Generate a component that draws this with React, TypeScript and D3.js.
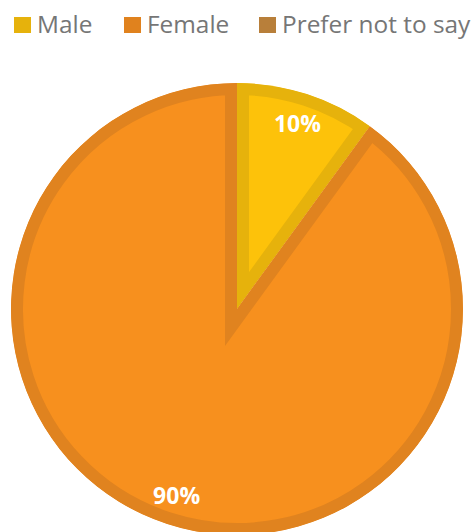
import React from "react";
import * as d3 from "d3";

const categories = ["Male", "Female", "Prefer not to say"];
const values = [10, 90, 0];
const labels = ["10%", "90%", ""];
const fills = ["#FDC20A", "#F7901E", "#B87F3A"];
const strokes = ["#E6B20C", "#E0831F", "#A87234"];
const legendFills = ["#E6B20C", "#E0821E", "#B87F3A"];

const W = 472, H = 532;
const cx = 237, cy = 309, R = 226;

export default function App() {
  const pie = d3.pie<number>().sort(null).value((d) => d);
  const arcs = pie(values);
  const arcGen = d3.arc<d3.PieArcDatum<number>>().innerRadius(0).outerRadius(R);
  const labelArc = d3.arc<d3.PieArcDatum<number>>().innerRadius(R * 0.865).outerRadius(R * 0.865);

  const legendX = [14, 124, 259];
  const font = "'Open Sans', sans-serif";

  return (
    <svg width={W} height={H} style={{ position: "absolute", left: 0, top: 0 }}>
      <defs>
        {arcs.map((a, i) => (
          <clipPath id={`clip${i}`} key={i}>
            <path d={arcGen(a) || ""} />
          </clipPath>
        ))}
      </defs>
      <g transform={`translate(${cx},${cy})`}>
        {arcs.map((a, i) =>
          a.value > 0 ? (
            <path
              key={i}
              d={arcGen(a) || ""}
              fill={fills[i]}
              stroke={strokes[i]}
              strokeWidth={24}
              clipPath={`url(#clip${i})`}
            />
          ) : null
        )}
        {arcs.map((a, i) => {
          if (!labels[i]) return null;
          const [x, y] = labelArc.centroid(a);
          return (
            <text
              key={i}
              x={x}
              y={y}
              textAnchor="middle"
              dominantBaseline="central"
              fill="#FFFFFF"
              fontFamily={font}
              fontWeight="bold"
              fontSize={23}
            >
              {labels[i]}
            </text>
          );
        })}
      </g>
      <g>
        {categories.map((c, i) => (
          <g key={c} transform={`translate(${legendX[i]},0)`}>
            <rect x={0} y={17} width={17} height={16} fill={legendFills[i]} />
            <text
              x={23}
              y={33}
              fill="#767676"
              fontFamily={font}
              fontSize={24.4}
            >
              {c}
            </text>
          </g>
        ))}
      </g>
    </svg>
  );
}
